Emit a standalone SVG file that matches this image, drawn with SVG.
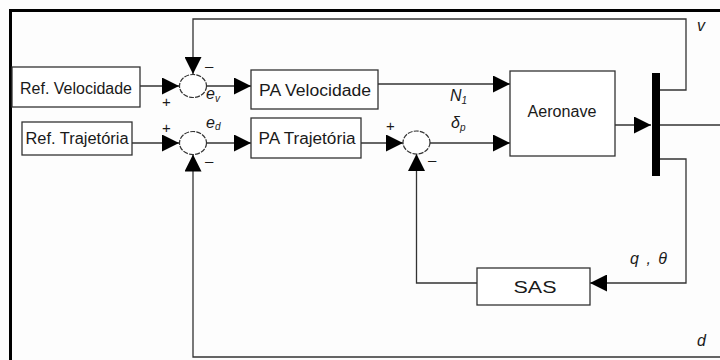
<svg xmlns="http://www.w3.org/2000/svg" width="720" height="360" viewBox="0 0 720 360">
<style>
.box{fill:#fff;stroke:#333;stroke-width:1.3}
.sum{fill:#fff;stroke:#333;stroke-width:1.2;stroke-dasharray:5 1.2}
.ln{fill:none;stroke:#333;stroke-width:1.3}
.t{font-family:"Liberation Sans",Arial,sans-serif;font-size:16px;fill:#1a1a1a}
.lab{font-family:"Liberation Sans",Arial,sans-serif;font-size:16px;font-style:italic;fill:#1a1a1a}
.sub{font-size:10px}
.sg{font-family:"Liberation Sans",Arial,sans-serif;font-size:15px;fill:#1a1a1a}
</style>
<defs>
<marker id="ah" markerUnits="userSpaceOnUse" markerWidth="17" markerHeight="17" refX="17" refY="8.5" orient="auto">
<path d="M0,0 L17,8.5 L0,17 z" fill="#000"/>
</marker>
</defs>
<rect width="720" height="360" fill="#fdfdfd"/>
<g id="frame">
<path d="M10.5,360 V10.5 H720" fill="none" stroke="#000" stroke-width="3"/>
</g>
<g id="connectors">
<path class="ln" d="M140,86 H179" marker-end="url(#ah)"/>
<path class="ln" d="M132,143 H179" marker-end="url(#ah)"/>
<path class="ln" d="M206,86 H251" marker-end="url(#ah)"/>
<path class="ln" d="M206,143 H251" marker-end="url(#ah)"/>
<path class="ln" d="M378,84 H510" marker-end="url(#ah)"/>
<path class="ln" d="M361,143 H403" marker-end="url(#ah)"/>
<path class="ln" d="M430,143 H510" marker-end="url(#ah)"/>
<path class="ln" d="M615,125 H651" marker-end="url(#ah)"/>
<path class="ln" d="M660,125 H720"/>
<path class="ln" d="M660,90 H686 V19 H193 V74" marker-end="url(#ah)"/>
<path class="ln" d="M660,159 H686 V283 H590" marker-end="url(#ah)"/>
<path class="ln" d="M477,283 H416.5 V154" marker-end="url(#ah)"/>
<path class="ln" d="M720,357 H193 V154.5" marker-end="url(#ah)"/>
</g>
<g id="ref-velocidade">
<rect class="box" x="12" y="67" width="128" height="40"/>
<text class="t" x="76" y="94" text-anchor="middle" textLength="112" lengthAdjust="spacingAndGlyphs">Ref. Velocidade</text>
</g>
<g id="ref-trajetoria">
<rect class="box" x="22" y="122" width="110" height="33"/>
<text class="t" x="77" y="144" text-anchor="middle" textLength="103" lengthAdjust="spacingAndGlyphs">Ref. Trajetória</text>
</g>
<g id="sum1">
<ellipse class="sum" cx="193" cy="86" rx="13.5" ry="11.5"/>
<text class="sg" x="205" y="71">–</text>
<text class="sg" x="162" y="107">+</text>
<text class="lab" x="206" y="99">e<tspan class="sub" dy="3">v</tspan></text>
</g>
<g id="sum2">
<ellipse class="sum" cx="193" cy="143" rx="13.5" ry="11.5"/>
<text class="sg" x="162" y="133">+</text>
<text class="sg" x="205" y="166">–</text>
<text class="lab" x="206" y="128">e<tspan class="sub" dy="2">d</tspan></text>
</g>
<g id="pa-velocidade">
<rect class="box" x="251" y="70" width="127" height="39"/>
<text class="t" x="315" y="96" text-anchor="middle" textLength="112" lengthAdjust="spacingAndGlyphs">PA Velocidade</text>
</g>
<g id="pa-trajetoria">
<rect class="box" x="251" y="118" width="110" height="40"/>
<text class="t" x="307" y="144" text-anchor="middle" textLength="97" lengthAdjust="spacingAndGlyphs">PA Trajetória</text>
</g>
<g id="sum3">
<ellipse class="sum" cx="416.5" cy="142.5" rx="13.5" ry="11.5"/>
<text class="sg" x="386" y="131">+</text>
<text class="sg" x="428" y="165">–</text>
<text class="lab" x="451" y="128" font-family="Liberation Serif">δ<tspan class="sub" dy="3">p</tspan></text>
</g>
<text class="lab" x="450" y="101" font-family="Liberation Serif" font-size="16">N<tspan class="sub" dy="3">1</tspan></text>
<g id="aeronave">
<rect class="box" x="510" y="71" width="105" height="85"/>
<text class="t" x="562" y="117" text-anchor="middle" textLength="69" lengthAdjust="spacingAndGlyphs">Aeronave</text>
</g>
<g id="demux">
<rect x="652" y="73" width="8" height="103" fill="#000"/>
</g>
<g id="sas">
<rect class="box" x="477" y="268" width="113" height="37"/>
<text class="t" x="535" y="293" text-anchor="middle" font-size="19" textLength="43" lengthAdjust="spacingAndGlyphs">SAS</text>
</g>
<text class="lab" x="697" y="31">v</text>
<text class="lab" x="630" y="264" textLength="37" lengthAdjust="spacing">q , θ</text>
<text class="lab" x="697" y="346">d</text>
</svg>
